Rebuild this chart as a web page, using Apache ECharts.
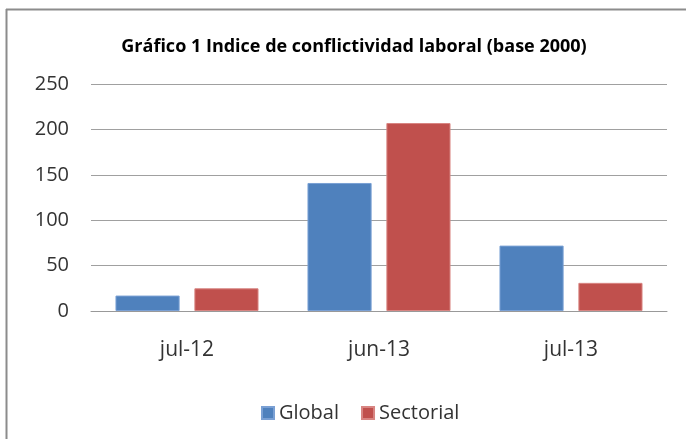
<!DOCTYPE html>
<html><head><meta charset="utf-8">
<script src="https://cdn.jsdelivr.net/npm/echarts@6/dist/echarts.min.js"></script>
<style>html,body{margin:0;padding:0;background:#fff}#c{width:686px;height:439px}</style>
</head><body><div id="c"></div>
<script>
const categories = ['jul-12', 'jun-13', 'jul-13'];
const globalValues = [17, 141, 72];
const sectorialValues = [25, 207, 31];
const yTicks = [0, 50, 100, 150, 200, 250];

const chart = echarts.init(document.getElementById('c'), null, {renderer: 'canvas'});
const font = '"Open Sans", "Noto Sans", sans-serif';
chart.setOption({
  animation: false,
  backgroundColor: '#fff',
  graphic: [
    {type: 'line', shape: {x1: 6, y1: 9.5, x2: 686, y2: 9.5}, style: {stroke: '#8c8c8c', lineWidth: 2}},
    {type: 'line', shape: {x1: 6.5, y1: 9, x2: 6.5, y2: 439}, style: {stroke: '#8c8c8c', lineWidth: 2}}
  ],
  title: {
    text: 'Gráfico 1 Indice de conflictividad laboral (base 2000)',
    left: 349, top: 33, textAlign: 'center',
    textStyle: {fontFamily: font, fontWeight: 'bold', fontSize: 18, color: '#000'}
  },
  legend: {
    data: ['Global', 'Sectorial'],
    left: 256, top: 398,
    itemWidth: 12, itemHeight: 12, itemGap: 22,
    icon: 'rect',
    textStyle: {fontFamily: font, fontSize: 20, color: '#333'}
  },
  grid: {left: 91, right: 19, top: 84, bottom: 128},
  xAxis: {
    type: 'category', data: categories,
    axisLine: {lineStyle: {color: '#999', width: 1}},
    axisTick: {show: false},
    axisLabel: {fontFamily: font, fontSize: 21, color: '#333', margin: 29}
  },
  yAxis: {
    type: 'value', min: 0, max: 250, interval: 50,
    axisLine: {show: false},
    axisTick: {show: false},
    axisLabel: {fontFamily: font, fontSize: 20, color: '#333', margin: 22,
      formatter: v => yTicks.includes(v) ? String(v) : ''},
    splitLine: {lineStyle: {color: '#a0a0a0', width: 1}}
  },
  series: [
    {name: 'Global', type: 'bar', data: globalValues, barGap: '23%', barCategoryGap: '25.5%',
     itemStyle: {color: '#4f81bd', borderColor: '#7aa0d4', borderWidth: 1}},
    {name: 'Sectorial', type: 'bar', data: sectorialValues,
     itemStyle: {color: '#c0504d', borderColor: '#d88582', borderWidth: 1}}
  ]
});
</script></body></html>
